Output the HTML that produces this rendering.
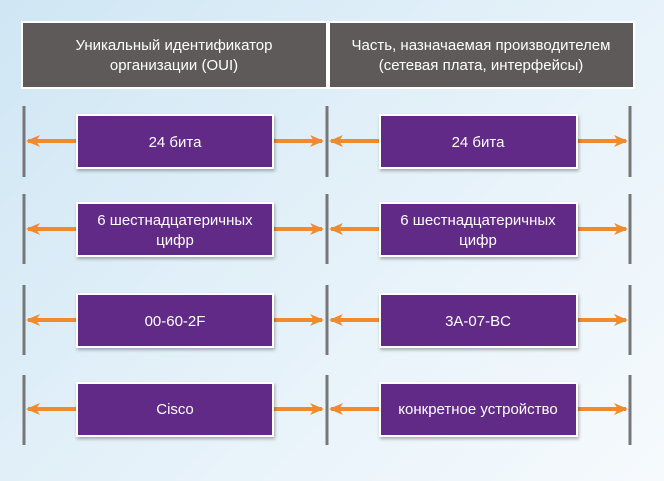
<!DOCTYPE html>
<html><head><meta charset="utf-8"><style>
body{margin:0;width:664px;height:481px;overflow:hidden;background:linear-gradient(135deg,#cfe6f4 0%,#e4f1f9 50%,#f6fafd 100%);}
svg{display:block}
text{font-family:"Liberation Sans",sans-serif;fill:#fff;text-anchor:middle}
</style></head><body>
<svg width="664" height="481" viewBox="0 0 664 481">
<defs>
<marker id="a" markerWidth="14" markerHeight="14" refX="12" refY="7" orient="auto" markerUnits="userSpaceOnUse"><path d="M0,1 L14,7 L0,13 L4,7 Z" fill="#f08a2a"/></marker>
<filter id="s" x="-5%" y="-10%" width="110%" height="130%"><feDropShadow dx="1" dy="2" stdDeviation="1.5" flood-color="#000" flood-opacity="0.3"/></filter>
</defs>
<rect x="22" y="22" width="305" height="66" fill="#5f5a5a" stroke="#fff" stroke-width="2"/>
<rect x="329" y="22" width="305" height="66" fill="#5f5a5a" stroke="#fff" stroke-width="2"/>
<text x="174" y="50" font-size="15">Уникальный идентификатор</text>
<text x="174" y="70" font-size="15">организации (OUI)</text>
<text x="481" y="50" font-size="15">Часть, назначаемая производителем</text>
<text x="481" y="70" font-size="15">(сетевая плата, интерфейсы)</text>
<g stroke="#777" stroke-width="3">
<line x1="24" y1="106" x2="24" y2="177"/><line x1="327" y1="106" x2="327" y2="177"/><line x1="630" y1="106" x2="630" y2="177"/>
<line x1="24" y1="194" x2="24" y2="264"/><line x1="327" y1="194" x2="327" y2="264"/><line x1="630" y1="194" x2="630" y2="264"/>
<line x1="24" y1="285" x2="24" y2="355"/><line x1="327" y1="285" x2="327" y2="355"/><line x1="630" y1="285" x2="630" y2="355"/>
<line x1="24" y1="375" x2="24" y2="445"/><line x1="327" y1="375" x2="327" y2="445"/><line x1="630" y1="375" x2="630" y2="445"/>
</g>
<g stroke="#f08a2a" stroke-width="4" marker-end="url(#a)">
<line x1="77" y1="141" x2="28" y2="141"/><line x1="273" y1="141" x2="322" y2="141"/><line x1="380" y1="141" x2="331" y2="141"/><line x1="577" y1="141" x2="626" y2="141"/>
<line x1="77" y1="229" x2="28" y2="229"/><line x1="273" y1="229" x2="322" y2="229"/><line x1="380" y1="229" x2="331" y2="229"/><line x1="577" y1="229" x2="626" y2="229"/>
<line x1="77" y1="320" x2="28" y2="320"/><line x1="273" y1="320" x2="322" y2="320"/><line x1="380" y1="320" x2="331" y2="320"/><line x1="577" y1="320" x2="626" y2="320"/>
<line x1="77" y1="409" x2="28" y2="409"/><line x1="273" y1="409" x2="322" y2="409"/><line x1="380" y1="409" x2="331" y2="409"/><line x1="577" y1="409" x2="626" y2="409"/>
</g>
<g fill="#622a87" stroke="#fff" stroke-width="2" filter="url(#s)">
<rect x="77" y="115" width="196" height="53"/><rect x="380" y="115" width="197" height="53"/>
<rect x="77" y="203" width="196" height="53"/><rect x="380" y="203" width="197" height="53"/>
<rect x="77" y="294" width="196" height="53"/><rect x="380" y="294" width="197" height="53"/>
<rect x="77" y="383" width="196" height="53"/><rect x="380" y="383" width="197" height="53"/>
</g>
<g font-size="15">
<text x="175" y="147">24 бита</text><text x="478" y="147">24 бита</text>
<text x="175" y="225">6 шестнадцатеричных</text><text x="175" y="245">цифр</text>
<text x="478" y="225">6 шестнадцатеричных</text><text x="478" y="245">цифр</text>
<text x="175" y="326">00-60-2F</text><text x="478" y="326">3A-07-BC</text>
<text x="175" y="414">Cisco</text><text x="478" y="414">конкретное устройство</text>
</g>
</svg>
</body></html>
